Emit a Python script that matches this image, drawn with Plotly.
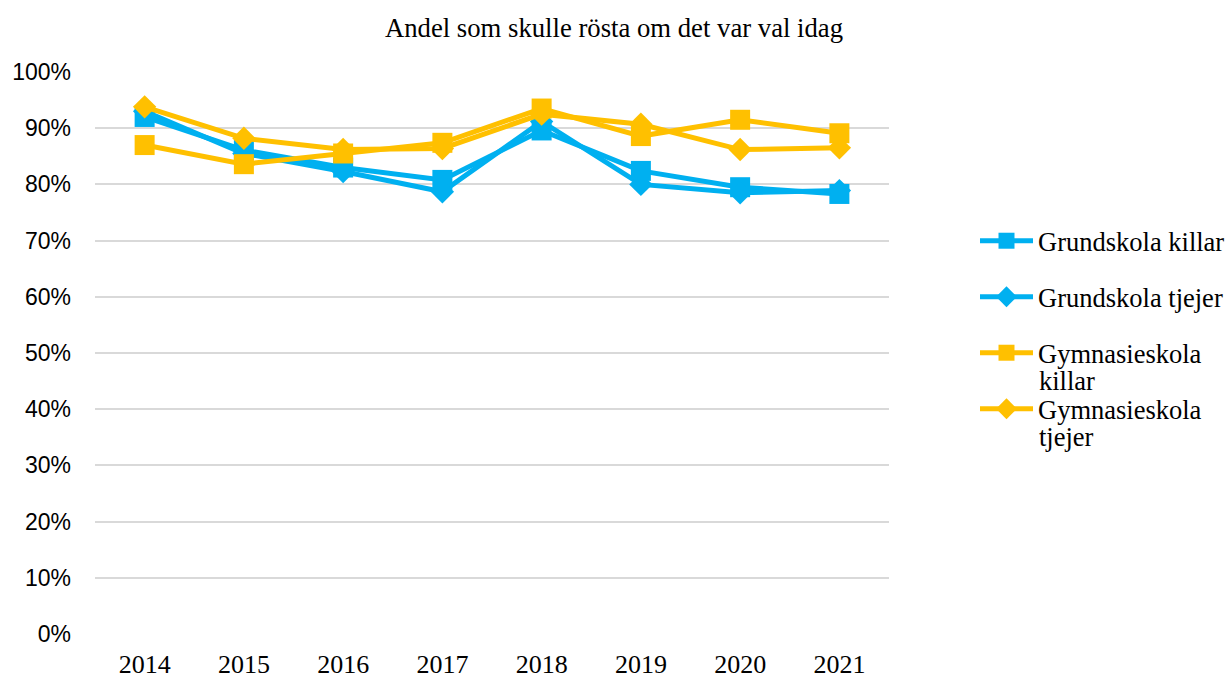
import plotly.graph_objects as go

years = ["2014", "2015", "2016", "2017", "2018", "2019", "2020", "2021"]
grund_killar = [0.920, 0.861, 0.830, 0.808, 0.896, 0.824, 0.795, 0.783]
grund_tjejer = [0.930, 0.855, 0.823, 0.787, 0.912, 0.800, 0.785, 0.789]
gymn_killar = [0.870, 0.836, 0.855, 0.874, 0.935, 0.886, 0.915, 0.891]
gymn_tjejer = [0.938, 0.882, 0.862, 0.864, 0.925, 0.907, 0.862, 0.865]

# legend first lines / wrapped second lines (as in the reference legend)
legend_first = ["Grundskola killar", "Grundskola tjejer", "Gymnasieskola", "Gymnasieskola"]
legend_second = ["", "", "killar", "tjejer"]
series = [grund_killar, grund_tjejer, gymn_killar, gymn_tjejer]
colors = ["#00B0F0", "#00B0F0", "#FFC000", "#FFC000"]
symbols = ["square", "diamond", "square", "diamond"]
sizes = [20, 18, 20, 18]
legend_ids = ["legend", "legend2", "legend3", "legend4"]

fig = go.Figure()
for nm, vals, col, sym, sz, lg in zip(legend_first, series, colors, symbols, sizes, legend_ids):
    fig.add_trace(go.Scatter(
        x=years, y=vals, name=nm, mode="lines+markers",
        line=dict(color=col, width=5),
        marker=dict(symbol=sym, size=sz, color=col),
        legend=lg,
    ))

legend_px = [241, 297, 353, 409]
plot_top, plot_bottom = 72, 634
plot_left, plot_right = 95, 889
H = plot_bottom - plot_top
W = plot_right - plot_left

legend_font = dict(family="Liberation Serif", size=26.5, color="#000000")
layout_legends = {}
for lg, py in zip(legend_ids, legend_px):
    layout_legends[lg] = dict(
        x=(975 - plot_left) / W,
        y=(plot_bottom - py) / H,
        xanchor="left", yanchor="middle",
        font=legend_font, bgcolor="rgba(0,0,0,0)",
        itemwidth=53, valign="middle", tracegroupgap=0,
    )

for sec, py in zip(legend_second, legend_px):
    if sec:
        fig.add_annotation(
            text=sec, xref="paper", yref="paper",
            x=(1037 - plot_left) / W, y=(plot_bottom - (py + 28)) / H,
            xanchor="left", yanchor="middle", showarrow=False,
            font=legend_font,
        )

fig.update_layout(
    width=1228, height=677,
    margin=dict(l=plot_left, r=1228 - plot_right, t=plot_top, b=677 - plot_bottom,
                autoexpand=False),
    paper_bgcolor="white", plot_bgcolor="white",
    title=dict(text="Andel som skulle rösta om det var val idag",
               x=0.5, xref="container", y=1 - 28 / 677, yref="container",
               yanchor="middle", xanchor="center",
               font=dict(family="Liberation Serif", size=26.7, color="#000000")),
    showlegend=True,
    xaxis=dict(
        type="category", range=[-0.5, 7.5], showgrid=False, showline=False,
        ticks="", ticklabelstandoff=12, automargin=False,
        tickfont=dict(family="Liberation Serif", size=26, color="#000000"),
        zeroline=False,
    ),
    yaxis=dict(
        range=[0, 1], dtick=0.1, tickformat=".0%", showgrid=True,
        gridcolor="#D9D9D9", gridwidth=2, zeroline=False, showline=False,
        ticks="", ticklabelstandoff=23, automargin=False,
        tickfont=dict(family="Liberation Sans", size=23, color="#000000"),
    ),
    **layout_legends,
)

fig.write_html("out.html", post_script="document.body.style.margin='0';",
               config={"displayModeBar": False})
